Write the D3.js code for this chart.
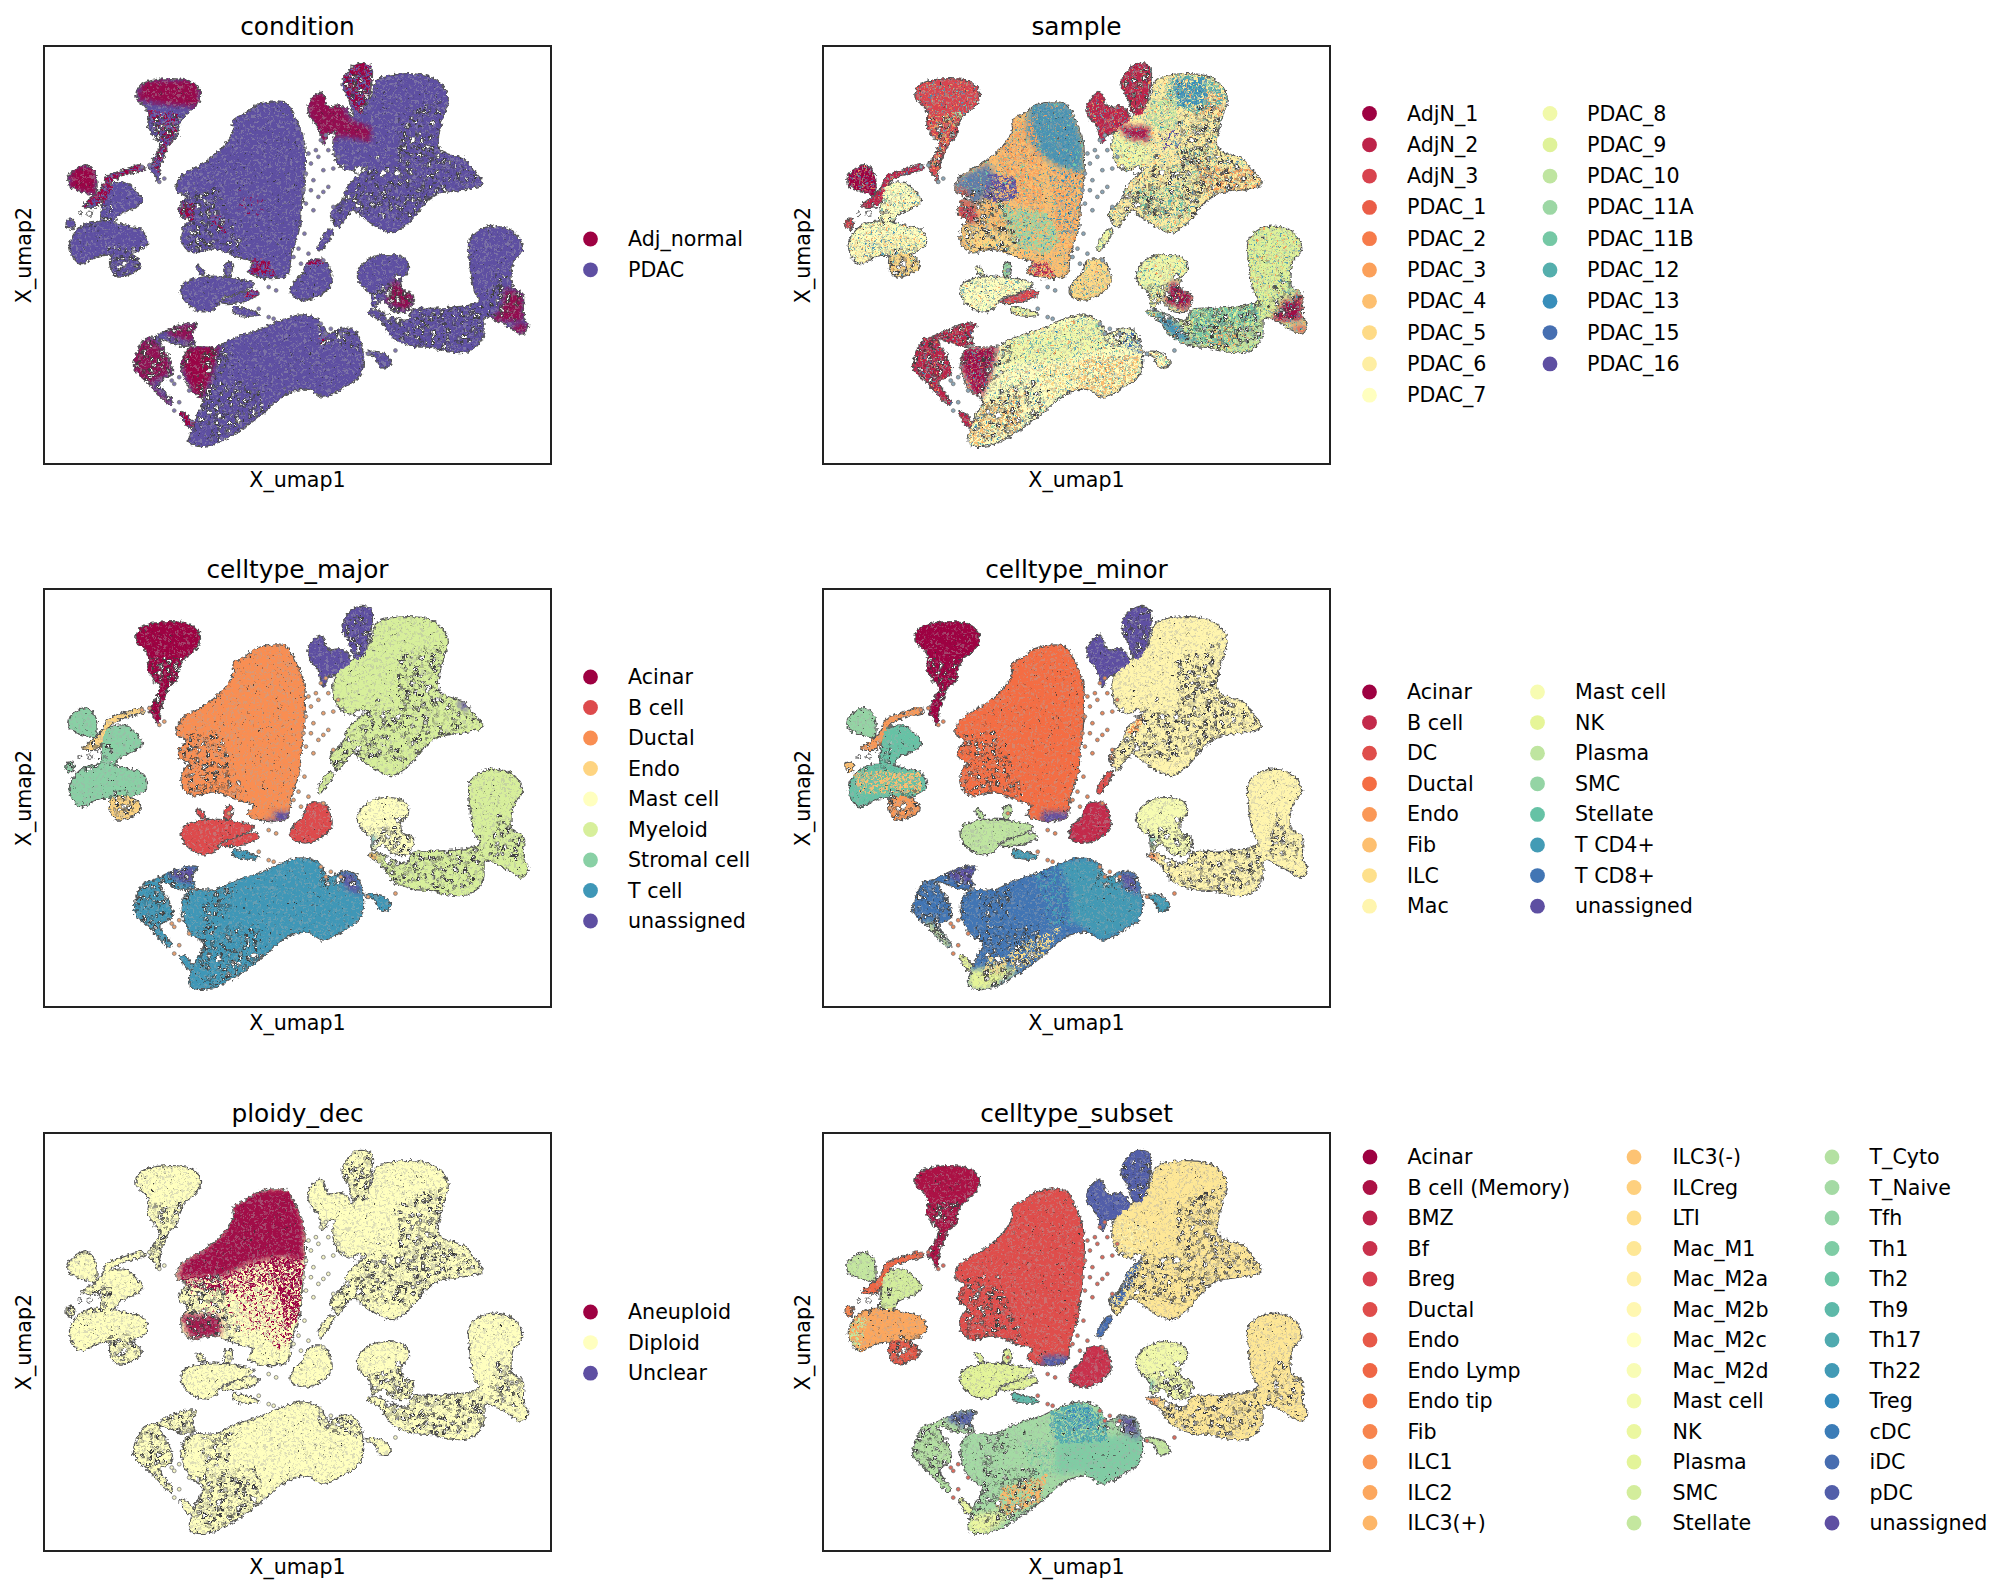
<!DOCTYPE html>
<html><head><meta charset="utf-8">
<script src="https://cdn.jsdelivr.net/npm/d3@7"></script>
<style>html,body{margin:0;background:#fff}text{font-family:"DejaVu Sans";fill:#000}filter{color-interpolation-filters:sRGB}</style>
</head><body><svg id="c" width="2011" height="1596"></svg>
<script>
// ---- outlines of UMAP islands
const shapes = {
 acinar:[[290,250],[330,238],[380,245],[400,270],[400,300],[388,325],[370,345],[358,380],[355,410],[340,430],[328,470],[320,510],[318,545],[312,525],[300,500],[312,470],[322,430],[312,410],[298,380],[300,340],[290,315],[275,295],[278,265]],
 stromTop:[[150,510],[172,495],[190,520],[190,580],[170,575],[140,555],[138,530]],
 endoStrip:[[170,610],[205,565],[215,530],[250,510],[285,495],[290,505],[255,520],[225,540],[212,570],[205,600],[185,620],[165,615]],
 fib:[[215,560],[250,548],[270,570],[285,600],[265,625],[240,640],[225,670],[205,665],[205,620]],
 stromLow:[[175,670],[215,665],[260,680],[285,690],[295,730],[270,755],[250,762],[200,765],[160,788],[140,740],[150,700]],
 endoLow:[[225,765],[250,758],[275,775],[282,800],[235,828],[222,800]],
 smcTiny:[[135,660],[148,662],[145,685],[135,680]],
 ductal:[[515,318],[545,308],[575,312],[590,345],[610,420],[612,520],[605,620],[600,690],[585,760],[578,820],[560,830],[545,805],[555,830],[525,830],[500,812],[510,785],[480,770],[430,745],[385,755],[365,720],[370,680],[380,660],[360,640],[365,610],[375,590],[355,570],[365,530],[410,490],[450,440],[470,390],[470,360],[490,345]],
 myeUp:[[760,240],[845,225],[880,245],[900,290],[890,350],[880,420],[885,450],[935,480],[950,510],[970,550],[940,565],[880,580],[850,615],[825,660],[790,695],[760,680],[730,650],[710,630],[690,660],[680,680],[665,640],[690,600],[700,560],[740,500],[700,510],[680,490],[670,430],[675,400],[690,370],[715,345],[745,300]],
 unassA:[[690,240],[715,195],[745,200],[745,260],[730,340],[715,345],[700,290],[690,265]],
 unassB:[[622,310],[645,278],[660,320],[690,320],[705,360],[690,375],[672,395],[660,400],[650,430],[640,380],[622,345]],
 myeStrip:[[660,690],[670,690],[650,740],[645,750],[640,745]],
 plasma:[[370,850],[420,830],[470,835],[510,850],[490,870],[445,895],[430,925],[405,932],[375,905],[365,875]],
 plasmaSpike:[[395,800],[403,802],[412,822],[405,822]],
 plasmaStrip:[[445,905],[510,870],[520,880],[480,905]],
 plasmaDot:[[455,790],[465,790],[462,825],[452,825]],
 bcell:[[620,785],[650,780],[665,820],[665,850],[640,885],[610,897],[585,880],[590,850],[610,820]],
 tStrip:[[470,920],[490,925],[520,942],[490,945],[470,935]],
 mast:[[720,815],[745,775],[790,765],[815,780],[820,810],[805,840],[810,870],[830,885],[820,930],[790,930],[770,900],[750,920],[745,880],[725,850]],
 myeLow:[[740,935],[760,930],[780,945],[820,960],[830,930],[880,925],[945,915],[965,900],[955,870],[945,780],[945,720],[965,690],[1000,680],[1035,700],[1050,745],[1030,790],[1030,860],[1050,880],[1052,950],[1062,975],[1050,1000],[1030,985],[1000,960],[975,950],[970,1010],[945,1050],[900,1052],[870,1040],[830,1035],[790,1010],[765,960]],
 tMain:[[560,965],[605,945],[640,960],[660,1000],[690,985],[715,995],[730,1080],[720,1130],[690,1160],[650,1188],[620,1165],[590,1170],[560,1195],[530,1235],[480,1290],[430,1330],[395,1335],[382,1325],[385,1290],[395,1250],[410,1200],[385,1170],[365,1095],[380,1045],[435,1040],[470,1015],[530,985]],
 tLeft:[[270,1085],[290,1020],[310,1010],[345,985],[370,972],[395,972],[385,1000],[390,1030],[365,1035],[320,1015],[325,1040],[340,1080],[345,1120],[320,1145],[345,1205],[340,1210],[300,1150],[270,1105]],
 tDangle:[[362,1235],[372,1240],[388,1270],[380,1278]],
 tTiny:[[735,1055],[770,1060],[785,1090],[765,1100],[755,1070]]
};
const shapeNames = Object.keys(shapes);

// areas where the cell cloud is visibly thin and full of small holes
const sparseAreas = [
[[800,340],[890,300],[885,450],[970,540],[880,580],[830,660],[720,640],[690,600],[740,500],[800,500]],
[[830,930],[970,900],[970,1010],[900,1050],[830,1030]],
[[1000,800],[1050,880],[1040,960],[980,940]],
[[740,860],[830,840],[830,930],[750,930]],
[[395,1150],[520,1140],[530,1240],[430,1330],[385,1290]],
[[640,970],[720,1000],[725,1050],[640,1030]],
[[400,1050],[470,1030],[460,1120],[410,1150]],
[[360,580],[440,560],[490,760],[380,760]],
[[265,1010],[400,965],[390,1035],[345,1210],[265,1110]],
[[295,345],[365,345],[355,420],[325,520],[300,500],[315,420]],
[[135,590],[225,600],[225,670],[135,690]],
[[215,740],[290,740],[285,805],[230,830]],
[[740,930],[830,960],[830,1030],[790,1010]],
[[660,600],[720,580],[700,650],[670,680]],
[[685,240],[750,195],[740,340],[705,340]]
];

// larger gaps inside islands: x, y, size
const gaps = [[320,390,5],[310,415,4],[325,375,4],[180,640,7],[160,640,5],[195,620,4],[250,790,7],[240,800,5],
[400,620,5],[410,600,4],[385,695,4],[410,670,4],[480,720,4],
[830,420,6],[860,440,6],[845,400,4],[770,520,7],[800,520,7],[825,520,4],[880,470,5],[905,485,4],[720,615,7],[700,590,5],[830,600,4],[760,470,4],[720,510,10],[690,500,5],
[800,830,7],[780,880,6],[770,860,5],[800,900,5],[755,900,5],
[800,960,5],[1000,900,4],[1010,930,4],[780,950,8],
[420,1110,5],[480,1260,6],[510,1235,6],[440,1245,7],[420,1235,5],[460,1290,4],[680,1010,6],[660,1020,4],[335,1060,5]];

// stray cells between islands
const strays = [[620,460],[635,450],[660,450],[640,470],[625,490],[650,510],[670,505],[615,520],[630,540],[660,560],[625,570],[640,590],[610,570],[615,610],[630,630],[650,575],[612,700],[600,745],[620,760],[590,770],[605,790],[460,810],[540,860],[555,870],[520,925],[540,950],[550,955],[795,1050],[740,1060],[360,1130],[350,1150],[380,1170],[360,1205],[350,1230],[345,1140],[330,535],[320,545],[300,495],[285,500],[655,1000],[645,970],[665,985],[685,1000],[650,780],[670,620],[680,470],[645,420],[655,405]];

// ---- legend categories
const catCondition=["Adj_normal","PDAC"];
const catSample=["AdjN_1","AdjN_2","AdjN_3","PDAC_1","PDAC_2","PDAC_3","PDAC_4","PDAC_5","PDAC_6","PDAC_7","PDAC_8","PDAC_9","PDAC_10","PDAC_11A","PDAC_11B","PDAC_12","PDAC_13","PDAC_15","PDAC_16"];
const catMajor=["Acinar","B cell","Ductal","Endo","Mast cell","Myeloid","Stromal cell","T cell","unassigned"];
const catMinor=["Acinar","B cell","DC","Ductal","Endo","Fib","ILC","Mac","Mast cell","NK","Plasma","SMC","Stellate","T CD4+","T CD8+","unassigned"];
const catPloidy=["Aneuploid","Diploid","Unclear"];
const catSubset=["Acinar","B cell (Memory)","BMZ","Bf","Breg","Ductal","Endo","Endo Lymp","Endo tip","Fib","ILC1","ILC2","ILC3(+)","ILC3(-)","ILCreg","LTI","Mac_M1","Mac_M2a","Mac_M2b","Mac_M2c","Mac_M2d","Mast cell","NK","Plasma","SMC","Stellate","T_Cyto","T_Naive","Tfh","Th1","Th2","Th9","Th17","Th22","Treg","cDC","iDC","pDC","unassigned"];

// ---- which category each island takes in each panel
const baseCondition=Object.fromEntries(shapeNames.map(n=>[n,"PDAC"]));
const baseSample={acinar:"AdjN_3",stromTop:"AdjN_1",endoStrip:"AdjN_2",fib:"PDAC_7",stromLow:"PDAC_7",endoLow:"PDAC_5",smcTiny:"AdjN_3",ductal:"PDAC_4",myeUp:"PDAC_6",unassA:"AdjN_2",unassB:"AdjN_2",myeStrip:"PDAC_8",plasma:"PDAC_7",plasmaSpike:"PDAC_7",plasmaStrip:"AdjN_3",plasmaDot:"PDAC_11A",bcell:"PDAC_5",tStrip:"PDAC_8",mast:"PDAC_8",myeLow:"PDAC_9",tMain:"PDAC_7",tLeft:"AdjN_2",tDangle:"AdjN_2",tTiny:"PDAC_7"};
const baseMajor={acinar:"Acinar",stromTop:"Stromal cell",endoStrip:"Endo",fib:"Stromal cell",stromLow:"Stromal cell",endoLow:"Endo",smcTiny:"Stromal cell",ductal:"Ductal",myeUp:"Myeloid",unassA:"unassigned",unassB:"unassigned",myeStrip:"Myeloid",plasma:"B cell",plasmaSpike:"B cell",plasmaStrip:"B cell",plasmaDot:"B cell",bcell:"B cell",tStrip:"T cell",mast:"Mast cell",myeLow:"Myeloid",tMain:"T cell",tLeft:"T cell",tDangle:"T cell",tTiny:"T cell"};
const baseMinor={acinar:"Acinar",stromTop:"SMC",endoStrip:"Endo",fib:"Stellate",stromLow:"Stellate",endoLow:"Endo",smcTiny:"Fib",ductal:"Ductal",myeUp:"Mac",unassA:"unassigned",unassB:"unassigned",myeStrip:"DC",plasma:"Plasma",plasmaSpike:"Plasma",plasmaStrip:"Plasma",plasmaDot:"Plasma",bcell:"B cell",tStrip:"T CD4+",mast:"Mast cell",myeLow:"Mac",tMain:"T CD8+",tLeft:"T CD8+",tDangle:"NK",tTiny:"T CD4+"};
const basePloidy=Object.fromEntries(shapeNames.map(n=>[n,"Diploid"]));
const baseSubset={acinar:"B cell (Memory)",stromTop:"Stellate",endoStrip:"Endo Lymp",fib:"SMC",stromLow:"ILC2",endoLow:"Endo",smcTiny:"Fib",ductal:"Ductal",myeUp:"Mac_M1",unassA:"pDC",unassB:"pDC",myeStrip:"iDC",plasma:"Plasma",plasmaSpike:"Plasma",plasmaStrip:"Plasma",plasmaDot:"Plasma",bcell:"Bf",tStrip:"Th9",mast:"Mast cell",myeLow:"Mac_M1",tMain:"T_Naive",tLeft:"T_Cyto",tDangle:"NK",tTiny:"Stellate"};

// ---- coloured zones inside the islands: category, share of cells, polygon
const zonesCondition=[
["Adj_normal",.9,[[285,240],[400,240],[402,320],[340,315],[275,300]]],
["Adj_normal",.55,[[295,330],[360,340],[350,420],[325,520],[305,510],[320,420]]],
["Adj_normal",.95,[[140,500],[190,495],[195,585],[140,570]]],
["Adj_normal",.75,[[165,620],[205,560],[215,525],[290,490],[295,510],[230,545],[210,610]]],
["Adj_normal",.85,[[615,275],[665,275],[690,315],[705,360],[745,380],[745,425],[680,405],[655,440],[620,350]]],
["Adj_normal",.75,[[685,190],[750,190],[745,270],[725,345],[700,300]]],
["Adj_normal",.7,[[360,605],[392,610],[392,660],[362,665]]],
["Adj_normal",.35,[[420,630],[450,650],[455,700],[425,680]]],
["Adj_normal",.2,[[480,570],[530,590],[530,660],[480,640]]],
["Adj_normal",.7,[[500,780],[540,780],[555,830],[505,820]]],
["Adj_normal",.75,[[620,770],[655,775],[650,795],[615,790]]],
["Adj_normal",.85,[[790,840],[835,880],[820,935],[775,905]]],
["Adj_normal",.85,[[1015,865],[1052,880],[1052,960],[985,965],[1010,920]]],
["Adj_normal",.9,[[1030,975],[1065,970],[1055,1002],[1030,990]]],
["Adj_normal",.8,[[265,1040],[300,1010],[340,1060],[345,1120],[300,1150],[345,1210],[335,1215],[265,1110]]],
["Adj_normal",.8,[[335,980],[398,968],[385,1025],[340,1005]]],
["Adj_normal",.95,[[365,1040],[440,1035],[425,1130],[400,1210],[385,1170],[365,1100]]],
["Adj_normal",.75,[[355,1230],[392,1230],[392,1282],[375,1282]]],
["Adj_normal",.7,[[500,870],[525,870],[515,890],[490,890]]],
["Adj_normal",.6,[[640,1010],[660,1010],[655,1025],[640,1025]]]
];
const zonesSample=[
["PDAC_13",.9,[[505,305],[585,305],[612,430],[612,520],[560,500],[520,460],[495,400]]],
["PDAC_3",.6,[[465,360],[510,360],[530,470],[530,640],[470,600],[440,480]]],
["PDAC_15",.85,[[350,540],[420,490],[440,540],[400,610],[360,600]]],
["PDAC_16",.75,[[420,520],[470,530],[485,590],[440,610],[410,590]]],
["PDAC_11A",.75,[[440,610],[540,640],[565,720],[540,760],[470,740]]],
["PDAC_5",.85,[[365,670],[470,700],[480,770],[430,750],[385,760]]],
["PDAC_1",.85,[[355,560],[380,570],[385,610],[360,610]]],
["AdjN_2",.85,[[358,610],[395,615],[400,665],[362,665]]],
["PDAC_3",.55,[[540,510],[612,510],[600,760],[565,740]]],
["PDAC_13",.3,[[540,510],[612,510],[600,700],[565,700]]],
["AdjN_2",.7,[[500,780],[540,785],[555,830],[505,825]]],
["PDAC_12",.6,[[790,225],[895,235],[905,300],[840,340],[770,300]]],
["PDAC_13",.7,[[790,235],[860,235],[860,310],[800,320]]],
["PDAC_10",.6,[[745,300],[800,290],[800,400],[740,380]]],
["PDAC_3",.5,[[860,270],[905,290],[885,350],[850,340]]],
["PDAC_8",.95,[[668,400],[745,420],[740,490],[700,515],[675,495]]],
["PDAC_16",.4,[[770,390],[800,390],[810,440],[770,450]]],
["PDAC_11B",.45,[[720,560],[810,560],[830,640],[790,690],[730,650]]],
["PDAC_3",.55,[[840,490],[965,510],[975,555],[860,590]]],
["PDAC_11A",.3,[[800,440],[880,440],[880,560],[790,560]]],
["AdjN_1",.9,[[680,375],[745,380],[745,425],[700,415]]],
["AdjN_1",.95,[[790,840],[835,880],[820,935],[775,905]]],
["AdjN_1",.95,[[1015,865],[1052,880],[1052,960],[985,965],[1010,920]]],
["AdjN_3",.8,[[1030,975],[1065,970],[1055,1002],[1030,990]]],
["PDAC_11B",.75,[[825,930],[960,915],[970,1000],[900,1040],[830,1030]]],
["PDAC_3",.3,[[850,980],[960,970],[960,1040],[850,1040]]],
["PDAC_13",.95,[[755,930],[790,950],[835,1030],[800,1020],[765,975]]],
["PDAC_10",.9,[[925,1000],[975,960],[970,1020],[945,1052],[905,1050]]],
["PDAC_9",.95,[[945,680],[1050,680],[1040,900],[955,900]]],
["PDAC_11A",.6,[[1030,800],[1055,800],[1050,880],[1020,880]]],
["PDAC_10",.4,[[325,340],[400,330],[360,380],[330,370]]],
["AdjN_1",.95,[[365,1040],[440,1035],[425,1130],[400,1210],[385,1170],[365,1100]]],
["PDAC_8",.9,[[460,1020],[640,950],[660,1040],[570,1080],[450,1090]]],
["PDAC_4",.55,[[600,1080],[725,1060],[720,1135],[650,1190],[590,1170]]],
["PDAC_15",.5,[[680,990],[725,1000],[725,1060],[695,1040]]],
["PDAC_4",.55,[[385,1220],[500,1170],[480,1290],[395,1335],[380,1320]]],
["PDAC_5",.45,[[520,1080],[610,1080],[590,1170],[540,1200]]],
["PDAC_6",.6,[[140,720],[280,700],[290,740],[160,790]]],
["PDAC_13",.25,[[170,720],[250,720],[240,755],[170,770]]],
["PDAC_3",.5,[[295,340],[360,350],[340,440],[320,520],[300,500],[315,420]]]
];
const zonesMajor=[
["unassigned",.9,[[680,981],[715,990],[726,1055],[695,1035]]],
["unassigned",1,[[335,980],[398,968],[385,1025],[345,1005]]],
["unassigned",1,[[528,805],[590,805],[585,835],[530,845]]],
["unassigned",1,[[922,470],[945,475],[942,500],[925,495]]],
["T cell",1,[[740,880],[755,880],[750,910],[738,905]]],
["Ductal",.9,[[737,930],[762,935],[755,955],[738,945]]],
["Ductal",1,[[500,790],[545,790],[555,830],[505,830]]]
];
const zonesMinor=[
["T CD4+",.95,[[565,960],[610,940],[730,990],[735,1130],[650,1195],[610,1150],[585,1130],[585,1040]]],
["T CD4+",.5,[[505,990],[585,950],[590,1150],[540,1150],[535,1070]]],
["ILC",.6,[[490,1195],[570,1150],[530,1240],[470,1290],[460,1230]]],
["NK",1,[[380,1280],[450,1265],[480,1285],[420,1340],[380,1340]]],
["ILC",.7,[[420,1240],[460,1240],[450,1290],[410,1290]]],
["unassigned",.9,[[680,981],[715,990],[726,1055],[695,1035]]],
["unassigned",1,[[335,980],[398,968],[385,1025],[345,1005]]],
["unassigned",1,[[528,805],[590,805],[585,835],[530,845]]],
["Fib",.65,[[150,680],[285,690],[285,750],[160,750]]],
["Stellate",.4,[[140,730],[200,720],[200,780],[150,780]]],
["DC",.9,[[640,630],[670,630],[665,690],[640,690]]],
["Endo",.7,[[700,520],[735,510],[720,570],[695,570]]],
["NK",1,[[300,1130],[345,1200],[340,1215],[295,1150]]],
["T CD4+",1,[[740,880],[755,880],[750,910],[738,905]]],
["Ductal",1,[[737,930],[762,935],[755,955],[738,945]]]
];
const zonesPloidy=[
["Aneuploid",.95,[[505,305],[590,305],[612,420],[612,520],[560,510],[500,530],[445,570],[400,570],[355,575],[365,525],[410,485],[450,430],[465,360]]],
["Aneuploid",.6,[[355,570],[445,565],[500,530],[560,510],[560,580],[470,620],[420,610],[380,600]]],
["Aneuploid",.9,[[360,680],[440,685],[445,745],[385,760]]],
["Aneuploid",.72,[[545,510],[612,510],[600,700],[575,720],[560,620]]],
["Aneuploid",.4,[[470,610],[560,575],[590,760],[560,790],[520,730],[490,690]]],
["Aneuploid",.18,[[380,610],[480,620],[520,730],[470,750],[420,690]]]
];
const zonesSubset=[
["Th1",.95,[[555,1060],[730,1040],[735,1130],[650,1195],[610,1155],[555,1160]]],
["Th1",.45,[[490,1060],[560,1060],[560,1160],[510,1170]]],
["Th17",.72,[[545,975],[610,940],[660,1000],[660,1060],[570,1070],[545,1040]]],
["Treg",.45,[[575,960],[625,960],[640,1020],[585,1030]]],
["ILC3(+)",.7,[[450,1200],[540,1160],[525,1240],[460,1285],[435,1260]]],
["NK",1,[[380,1285],[440,1270],[460,1290],[420,1340],[380,1340]]],
["unassigned",.9,[[680,981],[715,990],[726,1055],[695,1035]]],
["pDC",1,[[335,980],[398,968],[385,1025],[345,1005]]],
["pDC",1,[[528,805],[590,805],[585,835],[530,845]]],
["Stellate",.6,[[140,690],[180,690],[160,790],[140,760]]],
["Mac_M2b",.4,[[680,400],[745,420],[740,490],[700,515],[675,495]]],
["iDC",.75,[[690,520],[735,510],[700,620],[680,660],[660,640]]],
["Th17",1,[[740,880],[755,880],[750,910],[738,905]]],
["Endo tip",1,[[737,930],[762,935],[755,955],[738,945]]]
];

// ---- panel table
const panels=[
{title:"condition",cats:catCondition,base:baseCondition,zones:zonesCondition,col:0,row:0,legend:{x:[590.5],tx:[628],y:239,dy:30.8,n:2},stray:"#7f76b0",tint:[]},
{title:"sample",cats:catSample,base:baseSample,zones:zonesSample,col:1,row:0,legend:{x:[1369.5,1550],tx:[1407,1587],y:113.5,dy:31.3,n:10},stray:"#8aa6b8",tint:["PDAC_3","PDAC_11B","PDAC_13"]},
{title:"celltype_major",cats:catMajor,base:baseMajor,zones:zonesMajor,col:0,row:1,legend:{x:[590.5],tx:[628],y:677,dy:30.5,n:9},stray:"#e8a070",tint:[]},
{title:"celltype_minor",cats:catMinor,base:baseMinor,zones:zonesMinor,col:1,row:1,legend:{x:[1369.5,1537.5],tx:[1407,1575],y:692,dy:30.6,n:8},stray:"#e8885c",tint:[]},
{title:"ploidy_dec",cats:catPloidy,base:basePloidy,zones:zonesPloidy,col:0,row:2,legend:{x:[590.5],tx:[628],y:1312,dy:30.6,n:3},stray:"#f4f4c8",tint:[]},
{title:"celltype_subset",cats:catSubset,base:baseSubset,zones:zonesSubset,col:1,row:2,legend:{x:[1370,1634,1832],tx:[1407.5,1672.5,1869.5],y:1157,dy:30.5,n:13},stray:"#dd6a5c",tint:[]}
];
const colLeft=[44,823], colW=507, rowTop=[46,589,1133], rowH=418;
const spectralStops=["#9E0142","#D53E4F","#F46D43","#FDAE61","#FEE08B","#FFFFBF","#E6F598","#ABDDA4","#66C2A5","#3288BD","#5E4FA2"];
const spectral=d3.scaleLinear().domain(spectralStops.map((_,i)=>i/10)).range(spectralStops);

const svg=d3.select("#c");
const defs=svg.append("defs");
defs.append("filter").attr("id","blur").attr("x","-30%").attr("y","-30%").attr("width","160%").attr("height","160%")
 .append("feGaussianBlur").attr("stdDeviation",2.5);
const rough=defs.append("filter").attr("id","rough").attr("x","-5%").attr("y","-5%").attr("width","110%").attr("height","110%");
rough.append("feTurbulence").attr("type","fractalNoise").attr("baseFrequency",.3).attr("numOctaves",2).attr("seed",4).attr("result","n");
rough.append("feDisplacementMap").attr("in","SourceGraphic").attr("in2","n").attr("scale",6).attr("xChannelSelector","R").attr("yChannelSelector","G");
// texture filter: a share of the area filled in one colour
function texture(id,seed,share,col,freq){
 const rgb=d3.rgb(col);
 const t=9*(.5+.12*(1-2*share)*1.6);
 const f=defs.append("filter").attr("id",id).attr("x",0).attr("y",0).attr("width","100%").attr("height","100%");
 f.append("feTurbulence").attr("type","fractalNoise").attr("baseFrequency",freq).attr("numOctaves",1).attr("seed",seed);
 f.append("feColorMatrix").attr("type","matrix").attr("values",`0 0 0 0 ${rgb.r/255} 0 0 0 0 ${rgb.g/255} 0 0 0 0 ${rgb.b/255} 9 0 0 0 ${-t}`);
}
// texture filter: white holes with a dark rim
function holes(id,seed,share){
 const t=9*(.5+.12*(1-2*share)*1.6);
 const f=defs.append("filter").attr("id",id).attr("x",0).attr("y",0).attr("width","100%").attr("height","100%");
 f.append("feTurbulence").attr("type","fractalNoise").attr("baseFrequency",.28).attr("numOctaves",2).attr("seed",seed);
 f.append("feColorMatrix").attr("type","matrix").attr("values",`0 0 0 0 1 0 0 0 0 1 0 0 0 0 1 9 0 0 0 ${-t}`).attr("result","w");
 f.append("feMorphology").attr("in","w").attr("operator","dilate").attr("radius",.8).attr("result","d");
 f.append("feColorMatrix").attr("in","d").attr("type","matrix").attr("values","0 0 0 0 .25 0 0 0 0 .25 0 0 0 0 .25 0 0 0 1 0").attr("result","r");
 const m=f.append("feMerge");m.append("feMergeNode").attr("in","r");m.append("feMergeNode").attr("in","w");
}
panels.forEach((p,k)=>{
 const L=colLeft[p.col],T=rowTop[p.row];
 const x=d3.scaleLinear().domain([88,1108]).range([L,L+colW]);
 const y=d3.scaleLinear().domain([138,1390]).range([T,T+rowH]);
 const line=d3.line().x(d=>x(d[0])).y(d=>y(d[1])).curve(d3.curveLinearClosed);
 const smooth=d3.line().x(d=>x(d[0])).y(d=>y(d[1])).curve(d3.curveCatmullRomClosed.alpha(.5));
 const color=c=>spectral(p.cats.length>1?p.cats.indexOf(c)/(p.cats.length-1):0);
 const g=svg.append("g");
 const clip=defs.append("clipPath").attr("id","blobs"+k);
 shapeNames.forEach(n=>clip.append("path").attr("d",smooth(shapes[n])));
 const sp=defs.append("clipPath").attr("id","sparse"+k);
 sparseAreas.forEach(a=>sp.append("path").attr("d",line(a)));
 const map=g.append("g").attr("filter","url(#rough)");
 map.selectAll("path.o").data(shapeNames).join("path").attr("class","o").attr("d",n=>smooth(shapes[n])).attr("fill","none").attr("stroke","#555").attr("stroke-width",2.4);
 map.selectAll("path.f").data(shapeNames).join("path").attr("class","f").attr("d",n=>smooth(shapes[n])).attr("fill",n=>color(p.base[n]));
 const inner=map.append("g").attr("clip-path",`url(#blobs${k})`);
 // zones drawn in listed order: solid ones softened, mixed ones as scattered texture
 p.zones.forEach((z,i)=>{
  if(z[1]>=.8){
   inner.append("path").attr("filter","url(#blur)").attr("d",line(z[2])).attr("fill",color(z[0])).attr("opacity",z[1]);
  } else {
   const xs=z[2].map(q=>x(q[0])),ys=z[2].map(q=>y(q[1]));
   const id=`m${k}_${i}`;
   texture(id,100+k*20+i,z[1],color(z[0]),.42);
   defs.append("clipPath").attr("id","c"+id).append("path").attr("d",line(z[2]));
   inner.append("g").attr("clip-path",`url(#c${id})`).append("rect")
    .attr("x",d3.min(xs)).attr("y",d3.min(ys)).attr("width",d3.max(xs)-d3.min(xs)).attr("height",d3.max(ys)-d3.min(ys)).attr("filter",`url(#${id})`);
  }
 });
 p.tint.forEach((c,i)=>{
  const id=`t${k}_${i}`;texture(id,70+i*5,.12,color(c),.5);
  inner.append("rect").attr("x",L).attr("y",T).attr("width",colW).attr("height",rowH).attr("filter",`url(#${id})`);
 });
 texture("gr"+k,11+k*3,.42,"#aaaaaa",.42);
 inner.append("rect").attr("x",L).attr("y",T).attr("width",colW).attr("height",rowH).attr("filter",`url(#gr${k})`).attr("opacity",.4);
 holes("ho"+k,30+k,.1);
 texture("dk"+k,40+k,.05,"#333333",.6);
 const thin=inner.append("g").attr("clip-path",`url(#sparse${k})`);
 thin.append("rect").attr("x",L).attr("y",T).attr("width",colW).attr("height",rowH).attr("filter",`url(#ho${k})`);
 thin.append("rect").attr("x",L).attr("y",T).attr("width",colW).attr("height",rowH).attr("filter",`url(#dk${k})`);
 texture("dq"+k,60+k,.02,"#333333",.6);
 inner.append("rect").attr("x",L).attr("y",T).attr("width",colW).attr("height",rowH).attr("filter",`url(#dq${k})`);
 map.selectAll("circle.g").data(gaps).join("circle").attr("class","g").attr("cx",d=>x(d[0])).attr("cy",d=>y(d[1])).attr("r",d=>d[2]*.4)
  .attr("fill","#fff").attr("stroke","#444").attr("stroke-width",.9);
 g.selectAll("circle.s").data(strays).join("circle").attr("class","s").attr("cx",d=>x(d[0])).attr("cy",d=>y(d[1])).attr("r",1.9)
  .attr("fill",p.stray).attr("stroke","#777").attr("stroke-width",.8);
 g.append("rect").attr("x",L).attr("y",T).attr("width",colW).attr("height",rowH).attr("fill","none").attr("stroke","#222").attr("stroke-width",2);
 g.append("text").attr("x",L+colW/2).attr("y",T-11.5).attr("text-anchor","middle").attr("font-size",24.8).text(p.title);
 g.append("text").attr("x",L+colW/2).attr("y",T+rowH+23).attr("text-anchor","middle").attr("font-size",20.6).text("X_umap1");
 g.append("text").attr("transform",`translate(${L-13},${T+rowH/2}) rotate(-90)`).attr("text-anchor","middle").attr("font-size",20.6).text("X_umap2");
 const lg=p.legend;
 p.cats.forEach((c,i)=>{
  const cx=Math.floor(i/lg.n), r=i%lg.n, yy=lg.y+r*lg.dy;
  g.append("circle").attr("cx",lg.x[cx]).attr("cy",yy).attr("r",7.4).attr("fill",color(c));
  g.append("text").attr("x",lg.tx[cx]).attr("y",yy+7).attr("font-size",20.6).text(c);
 });
});
</script></body></html>
